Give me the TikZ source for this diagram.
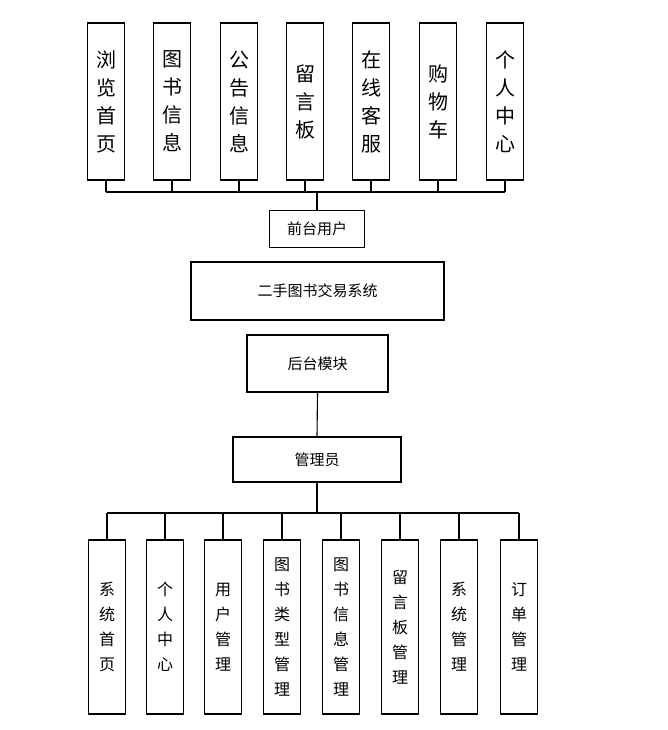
\documentclass[tikz,border=0pt]{standalone}
\usepackage{fontspec}
\setmainfont{Noto Sans CJK SC}
\newfontfamily\cjkl{Noto Sans CJK SC}
\begin{document}
\begin{tikzpicture}[x=1pt,y=-1pt,
 box/.style={draw,line width=1.2pt,inner sep=0pt},
 ln/.style={line width=1.1pt},
 tbox/.style={box,minimum width=37pt,minimum height=157pt,font=\fontsize{20}{28}\selectfont,align=center},
 bbox/.style={box,minimum width=37pt,minimum height=174pt,font=\fontsize{16}{25}\selectfont,align=center},
 mbox/.style={box,font=\fontsize{15}{18}\selectfont}]
\useasboundingbox (0,0) rectangle (668,730);
\foreach \n/\x/\t in {a/106/浏\\览\\首\\页,b/172/图\\书\\信\\息,c/239/公\\告\\信\\息,d/305/留\\言\\板,e/371/在\\线\\客\\服,f/438/购\\物\\车,g/505/个\\人\\中\\心}
 {\node[tbox] (\n) at (\x,101.5) {\t}; \draw[ln] (\n.south) -- (\x,192);}
\draw[ln] (a.south|-0,192) -- (g.south|-0,192);
\node[mbox,minimum width=95pt,minimum height=37pt] (fr) at (317,229) {前台用户};
\draw[line width=2.5pt] (317,192) -- (fr.north);
\node[mbox,minimum width=253pt,minimum height=58pt] (sys) at (317.5,291) {二手图书交易系统};
\node[mbox,minimum width=141pt,minimum height=57pt] (bk) at (317.5,363.5) {后台模块};
\node[mbox,minimum width=168pt,minimum height=45pt] (ad) at (317,459.5) {管理员};
\draw[ln] (bk.south) -- (ad.north);
\draw[ln] (ad.south) -- (317,513);
\foreach \n/\x/\t in {p/107/系\\统\\首\\页,q/165/个\\人\\中\\心,r/223/用\\户\\管\\理,s/282/图\\书\\类\\型\\管\\理,t/341/图\\书\\信\\息\\管\\理,u/400/留\\言\\板\\管\\理,v/459/系\\统\\管\\理,w/519/订\\单\\管\\理}
 {\node[bbox] (\n) at (\x,627) {\t}; \draw[ln] (\n.north) -- (\x,513);}
\draw[ln] (p.north|-0,513) -- (w.north|-0,513);
\end{tikzpicture}
\end{document}
